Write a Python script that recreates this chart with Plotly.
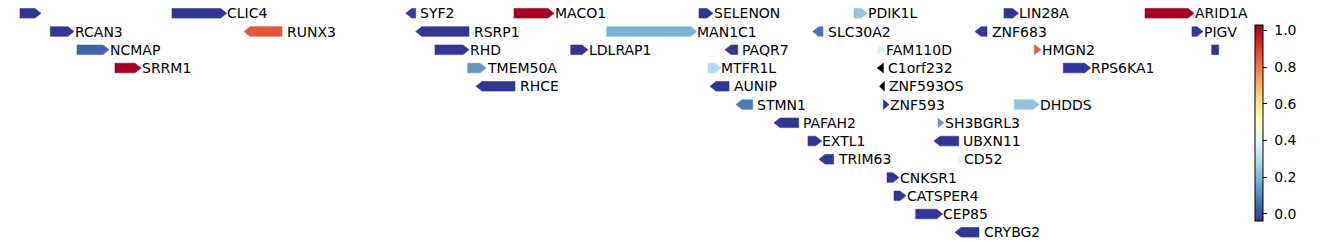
import math
import plotly.graph_objects as go
from plotly.colors import sample_colorscale

# ---- data -------------------------------------------------------------
genes = ["", "CLIC4", "SYF2", "MACO1", "SELENON", "PDIK1L", "LIN28A", "ARID1A",
         "RCAN3", "RUNX3", "RSRP1", "MAN1C1", "SLC30A2", "ZNF683", "PIGV",
         "NCMAP", "RHD", "LDLRAP1", "PAQR7", "FAM110D", "HMGN2", "",
         "SRRM1", "TMEM50A", "MTFR1L", "C1orf232", "RPS6KA1",
         "RHCE", "AUNIP", "ZNF593OS",
         "STMN1", "ZNF593", "DHDDS",
         "PAFAH2", "SH3BGRL3",
         "EXTL1", "UBXN11",
         "TRIM63", "CD52",
         "CNKSR1", "CATSPER4", "CEP85", "CRYBG2"]
starts = [20, 172, 405.7, 514, 699, 854, 1004, 1145,
          50.3, 244, 415.7, 606.7, 812.7, 975, 1192,
          77, 435, 570.7, 725, 878, 1034.3, 1211.7,
          115, 467.7, 708, 877.2, 1063.3,
          476, 710, 879.6,
          736, 883.4, 1014.3,
          774, 938,
          808, 934,
          819, 957.7,
          887, 894, 915.7, 955]
ends = [41, 226.7, 415.7, 554, 713, 867, 1018.6, 1194,
        74, 282, 469, 696.7, 823, 987, 1203,
        109, 469, 588, 737.7, 885, 1041, 1218.7,
        141, 486, 720.7, 883.4, 1090.7,
        515, 729, 884.4,
        752.7, 889.2, 1039.3,
        798.7, 944,
        821.7, 958.7,
        833.7, 963,
        899, 906, 942.7, 979]
strands = [1, 1, -1, 1, 1, 1, 1, 1,
           1, -1, -1, 1, -1, -1, 1,
           1, 1, 1, -1, 1, 1, 0,
           1, 1, 1, -1, 1,
           -1, -1, -1,
           -1, 1, 1,
           -1, 1,
           1, -1,
           -1, 1,
           1, 1, 1, -1]
values = [-0.04, -0.04, -0.02, 1.03, -0.04, 0.23, -0.04, 1.03,
          -0.04, 0.86, -0.04, 0.185, 0.07, -0.04, -0.04,
          0.04, -0.04, -0.04, -0.04, 0.37, 0.85, -0.04,
          1.03, 0.13, 0.29, float("nan"), -0.04,
          -0.04, -0.04, float("nan"),
          0.08, -0.04, 0.23,
          -0.04, 0.14,
          -0.04, -0.04,
          -0.04, 0.40,
          -0.04, -0.04, -0.04, -0.04]
rows = [0, 0, 0, 0, 0, 0, 0, 0,
        1, 1, 1, 1, 1, 1, 1,
        2, 2, 2, 2, 2, 2, 2,
        3, 3, 3, 3, 3,
        4, 4, 4,
        5, 5, 5,
        6, 6,
        7, 7,
        8, 8,
        9, 10, 11, 12]
tick_vals = [0.0, 0.2, 0.4, 0.6, 0.8, 1.0]

CMIN, CMAX = -0.04, 1.03
SCALE = "RdYlBu_r"

# ---- geometry (pixel-based styling) ------------------------------------
W, H = 1338, 246
ROW0_PX, ROW_PX = 13.3, 18.25
HALF_H = 4.8 / ROW_PX     # in row units
HEAD = 6.0                # in x units (x axis is 1 unit / px)
FONT = dict(family="DejaVu Sans", size=14, color="black")

fig = go.Figure()

def color_for(v):
    if v is None or (isinstance(v, float) and math.isnan(v)):
        return "rgb(0,0,0)"
    t = (v - CMIN) / (CMAX - CMIN)
    t = min(max(t, 0.0), 1.0)
    return sample_colorscale(SCALE, [t])[0]

for name, s, e, st, v, r in zip(genes, starts, ends, strands, values, rows):
    y = r
    head = min(HEAD, e - s)
    if st == 1:
        xs = [s, e - head, e, e - head, s, s]
        ys = [y - HALF_H, y - HALF_H, y, y + HALF_H, y + HALF_H, y - HALF_H]
    elif st == -1:
        xs = [e, s + head, s, s + head, e, e]
        ys = [y - HALF_H, y - HALF_H, y, y + HALF_H, y + HALF_H, y - HALF_H]
    else:
        xs = [s, e, e, s, s]
        ys = [y - HALF_H, y - HALF_H, y + HALF_H, y + HALF_H, y - HALF_H]
    c = color_for(v)
    fig.add_trace(go.Scatter(x=xs, y=ys, mode="lines", fill="toself",
                             fillcolor=c, line=dict(color=c, width=0.6),
                             hoverinfo="text", text=name or "gene",
                             showlegend=False))
    if name:
        gap = 0.5 if st == 1 else 4.5
        fig.add_annotation(x=e + gap, y=y, text=name, showarrow=False,
                           xanchor="left", yanchor="middle",
                           borderpad=0, borderwidth=0, font=FONT)

# colorbar carrier
fig.add_trace(go.Scatter(
    x=[0], y=[0], mode="markers", showlegend=False, hoverinfo="skip",
    marker=dict(size=0, opacity=0, color=[CMIN], cmin=CMIN, cmax=CMAX,
                colorscale=SCALE, showscale=True,
                colorbar=dict(x=1255 / W, xanchor="left", xpad=0,
                              y=0.5, yanchor="middle", ypad=0,
                              thickness=8, lenmode="pixels", len=196,
                              outlinewidth=1, outlinecolor="black",
                              ticks="outside", ticklen=4, tickwidth=1,
                              tickcolor="black",
                              tickvals=tick_vals,
                              ticktext=["\u00a0" + f"{t:.1f}" for t in tick_vals],
                              tickfont=FONT))))

y_top = -ROW0_PX / ROW_PX
y_bot = (H - ROW0_PX) / ROW_PX
fig.update_layout(
    width=W, height=H,
    margin=dict(l=0, r=0, t=0, b=0, pad=0, autoexpand=False),
    paper_bgcolor="white", plot_bgcolor="white",
    xaxis=dict(range=[0, W], visible=False, fixedrange=True),
    yaxis=dict(range=[y_bot, y_top], visible=False, fixedrange=True),
    font=FONT,
)

fig.write_html("out.html")
